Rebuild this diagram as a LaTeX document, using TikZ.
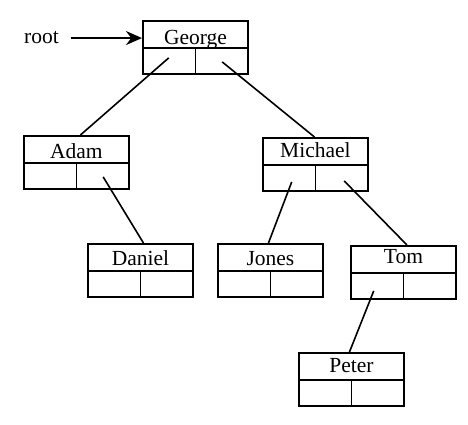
\documentclass[tikz,border=0pt]{standalone}
\usepackage{fontspec}
\setmainfont{Liberation Serif}
\usetikzlibrary{calc,arrows.meta}
\tikzset{
  box/.style={draw, line width=1.9pt, minimum width=105pt, minimum height=53pt, inner sep=0pt},
  div/.style={line width=1.9pt},
  lbl/.style={inner sep=0pt, font=\fontsize{21.5}{25}\selectfont},
  edge/.style={line width=1.6pt},
  ptr/.style={line width=2pt, -{Stealth[length=16pt, width=14pt]}}
}
\newcommand{\treebox}[5]{%
  \node[box, anchor=north west] (#1) at (#2,#3) {};
  \node[lbl, anchor=base] (#1-t) at ($(#1.north)+(0,#5)$) {#4};
  \draw[div] ($(#1.north west)+(0,28)$) -- ($(#1.north east)+(0,28)$);
  \draw[div] ($(#1.north)+(0,28)$) -- (#1.south);
  \coordinate (#1-l) at ($(#1.south west)!0.5!(#1.south)+(0,-13)$);
  \coordinate (#1-r) at ($(#1.south east)!0.5!(#1.south)+(0,-13)$);
}
\begin{document}
\begin{tikzpicture}[x=1pt,y=-1pt]
\useasboundingbox (0,0) rectangle (468,425);
\treebox{george}{142}{20}{George}{25}
\treebox{adam}{23}{135}{Adam}{23}
\treebox{michael}{262}{137}{Michael}{20.5}
\treebox{daniel}{87}{243}{Daniel}{22}
\treebox{jones}{217}{243}{Jones}{22}
\treebox{tom}{350}{245}{Tom}{18.5}
\treebox{peter}{298}{352}{Peter}{20}
\node[lbl, anchor=base west] (root) at (24,44) {root};
\draw[ptr] ($(root.east)+(12,0)$) -- (root.east -| george.west);
\draw[edge] ($(george-l)+(0,-4)$) -- ($(adam.north)+(4,0)$);
\draw[edge] (george-r) -- ($(michael.north)+(-1,0)$);
\draw[edge] (adam-r) -- ($(daniel.north)+(3,0)$);
\draw[edge] ($(michael-l)+(3,3)$) -- ($(jones.north)+(-2,0)$);
\draw[edge] ($(michael-r)+(2,2)$) -- ($(tom.north)+(3.5,0)$);
\draw[edge] ($(tom-l)+(-3,4)$) -- ($(peter.north)+(-2,0)$);
\end{tikzpicture}
\end{document}
